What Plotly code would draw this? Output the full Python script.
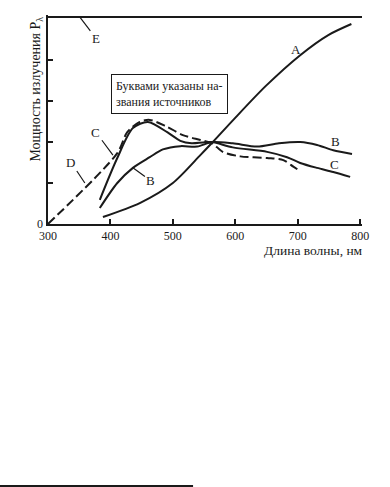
import plotly.graph_objects as go

# Wavelength (nm) and relative power for each source curve
a_nm = [388, 447, 500, 544, 564, 598, 649, 704, 749, 786]
a_p = [0.17, 0.51, 1.0, 1.68, 2.0, 2.56, 3.37, 4.12, 4.61, 4.88]

b_nm = [383, 411, 436, 463, 484, 512, 539, 563, 596, 635, 670, 704, 731, 757, 787]
b_p = [0.39, 1.0, 1.37, 1.63, 1.82, 1.90, 1.89, 2.0, 1.97, 1.89, 1.97, 2.0, 1.93, 1.80, 1.71]

c_nm = [383, 411, 436, 460, 491, 512, 530, 548, 563, 596, 651, 683, 704, 731, 757, 784]
c_p = [0.59, 1.61, 2.34, 2.49, 2.24, 2.03, 1.97, 1.99, 2.0, 1.87, 1.76, 1.63, 1.49, 1.37, 1.27, 1.15]

d_nm = [300, 411, 427, 447, 463, 491, 516, 544, 563, 580, 608, 651, 677, 693, 701]
d_p = [0.0, 1.73, 2.24, 2.49, 2.54, 2.37, 2.17, 2.05, 1.97, 1.76, 1.65, 1.61, 1.56, 1.40, 1.32]

e_nm = [300, 803]
e_p = [5.05, 5.05]

x_ticks = [300, 400, 500, 600, 700, 800]
y_ticks = [0, 1, 2, 3, 4]

INK = "#1a1a1a"
FONT = "Liberation Serif"

fig = go.Figure()
line_style = dict(color=INK, width=2, shape="spline", smoothing=0.8)
fig.add_trace(go.Scatter(x=a_nm, y=a_p, mode="lines", line=line_style, name="A"))
fig.add_trace(go.Scatter(x=b_nm, y=b_p, mode="lines", line=line_style, name="B"))
fig.add_trace(go.Scatter(x=c_nm, y=c_p, mode="lines", line=line_style, name="C"))
fig.add_trace(go.Scatter(x=d_nm, y=d_p, mode="lines",
                         line=dict(color=INK, width=2, dash="9px,4px", shape="spline", smoothing=0.8),
                         name="D"))
fig.add_trace(go.Scatter(x=e_nm, y=e_p, mode="lines", line=dict(color=INK, width=2), name="E"))

txt = dict(family=FONT, size=12, color=INK)
lbl = dict(family=FONT, size=13, color=INK)
annos = [
    dict(x=697, y=4.27, text="A", showarrow=False, font=lbl),
    dict(x=760, y=2.02, text="B", showarrow=False, font=lbl),
    dict(x=759, y=1.46, text="C", showarrow=False, font=lbl),
    dict(x=404, y=1.68, text="C", showarrow=True, ax=-17, ay=-23, arrowhead=0,
         arrowwidth=1.2, arrowcolor=INK, font=lbl),
    dict(x=436, y=1.37, text="B", showarrow=True, ax=18, ay=13, arrowhead=0,
         arrowwidth=1.2, arrowcolor=INK, font=lbl),
    dict(x=359, y=1.0, text="D", showarrow=True, ax=-14, ay=-21, arrowhead=0,
         arrowwidth=1.2, arrowcolor=INK, font=lbl),
    dict(x=351, y=5.05, text="E", showarrow=True, ax=16, ay=21, arrowhead=0,
         arrowwidth=1.2, arrowcolor=INK, font=lbl),
    dict(x=494, y=3.17, text="Буквами указаны на-<br>звания источников", showarrow=False,
         align="left", bordercolor=INK, borderwidth=1, borderpad=4, bgcolor="white",
         font=dict(family=FONT, size=12, color=INK)),
    dict(x=300, y=0, text="0", showarrow=False, xanchor="right", xshift=-3, font=txt),
    dict(xref="paper", yref="paper", x=-0.037, xanchor="center", y=0.645, yanchor="middle",
         text="Мощность излучения P<sub>λ</sub>", textangle=-90, showarrow=False,
         font=dict(family=FONT, size=14, color=INK)),
    dict(xref="paper", yref="paper", x=1.01, y=-0.08, xanchor="right", yanchor="top",
         text="Длина волны, нм", showarrow=False,
         font=dict(family=FONT, size=13.5, color=INK)),
]
for an in annos:
    fig.add_annotation(**an)

# footnote separator line at the bottom of the page
fig.add_shape(type="line", xref="paper", yref="paper", x0=-0.153, x1=0.462,
              y0=-1.2536, y1=-1.2536, line=dict(color=INK, width=2))

fig.update_layout(
    width=390, height=487,
    margin=dict(l=48, r=28, t=15, b=263),
    paper_bgcolor="white", plot_bgcolor="white",
    showlegend=False,
    font=dict(family=FONT, size=12, color=INK),
)
fig.update_xaxes(range=[300, 803], tickvals=x_ticks, ticks="inside", ticklen=5, tickwidth=1.5,
                 tickcolor=INK, showline=True, linecolor=INK, linewidth=2, showgrid=False,
                 zeroline=False, tickfont=txt, fixedrange=True)
fig.update_yaxes(range=[0, 5.1], tickvals=y_ticks, ticks="inside", showticklabels=False,
                 ticklen=5, tickwidth=1.5, tickcolor=INK, showline=True, linecolor=INK,
                 linewidth=2, showgrid=False, zeroline=False, fixedrange=True)

fig.write_html("out.html", config={"displayModeBar": False},
               post_script="document.body.style.margin='0';")
